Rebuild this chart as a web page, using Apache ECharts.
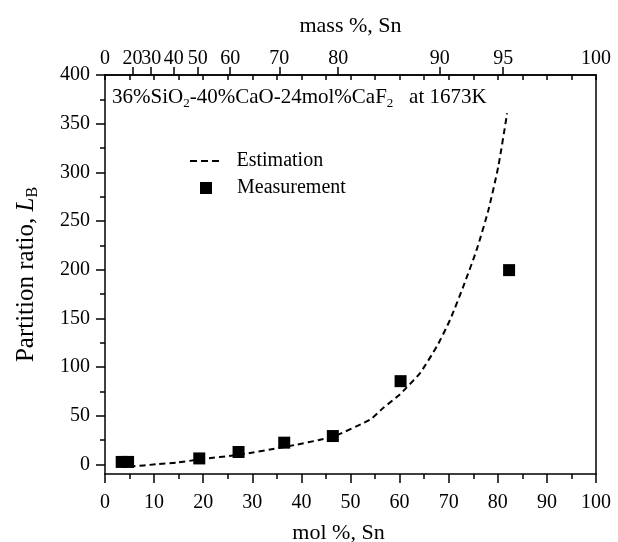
<!DOCTYPE html>
<html><head><meta charset="utf-8">
<script src="https://cdn.jsdelivr.net/npm/echarts@6/dist/echarts.min.js"></script>
<style>html,body{margin:0;padding:0;background:#fff}#c{width:618px;height:542px}</style>
</head><body><div id="c"></div>
<script>
// mass% top-axis tick positions (in mol% coordinates) and their labels
const massTickPos = [5.6, 9.4, 14.0, 18.9, 25.5, 35.5, 47.5, 68.2, 81.1];
const massLabelPos = [0, 5.6, 9.4, 14.0, 18.9, 25.5, 35.5, 47.5, 68.2, 81.1, 100];
const massLabels = ['0', '20', '30', '40', '50', '60', '70', '80', '90', '95', '100'];
// y ticks
const yTickVals = [0, 50, 100, 150, 200, 250, 300, 350, 400];
const yMinorVals = [25, 75, 125, 175, 225, 275, 325, 375];
// Measurement
const measMol = [3.4, 4.7, 19.2, 27.2, 36.5, 46.4, 60.2, 82.3];
const measLB = [2.4, 2.4, 6, 12.6, 22.2, 29, 85.4, 199.5];
// Estimation
const estMol = [5.0, 10.5, 14.6, 19.3, 27.5, 36.3, 46.4, 54.0, 56.7, 60.0, 61.4, 64.2, 67.6, 70.3, 73.0, 75.7, 78.1, 80.1, 81.9];
const estLB = [-2.4, 0, 1.7, 5, 10, 17.5, 28.5, 46, 58, 71.5, 78.7, 94, 121.3, 148.7, 183, 220.5, 261.5, 306, 360.7];

const FF = "'Liberation Serif', 'Times New Roman', serif";
const BLK = '#000';
const ls = { color: BLK, width: 1.5 };
const chart = echarts.init(document.getElementById('c'), null, { renderer: 'canvas' });
const gridRect = { left: 105, right: 22, top: 75, bottom: 68, containLabel: false, outerBoundsMode: 'none' };

chart.setOption({
  animation: false,
  backgroundColor: '#fff',
  textStyle: { fontFamily: FF, color: BLK, fontWeight: 'normal' },
  title: {
    left: 112, top: 85, padding: 0,
    text: '{n|36%SiO}{s|2}{n|-40%CaO-24mol%CaF}{s|2}{n|   at 1673K}',
    textStyle: {
      fontWeight: 'normal',
      rich: {
        n: { fontSize: 21, fontFamily: FF, color: BLK, fontWeight: 'normal', lineHeight: 25 },
        s: { fontSize: 13, fontFamily: FF, color: BLK, fontWeight: 'normal', lineHeight: 13, verticalAlign: 'bottom' }
      }
    }
  },
  legend: [
    { data: [{ name: 'Estimation', icon: 'path://M0,0h7v2h-7zM11,0h7v2h-7zM22,0h7v2h-7z', itemStyle: { color: BLK } }],
      left: 190, top: 151, orient: 'vertical', itemWidth: 30, itemHeight: 2, selectedMode: false, padding: 0,
      textStyle: { fontSize: 20, fontFamily: FF, color: BLK, padding: [0, 0, 0, 12] } },
    { data: [{ name: 'Measurement', icon: 'rect' }], left: 200, top: 178, orient: 'vertical', itemWidth: 12, itemHeight: 12, selectedMode: false, padding: 0,
      itemStyle: { opacity: 1 },
      textStyle: { fontSize: 20, fontFamily: FF, color: BLK, padding: [0, 0, 0, 20] } }
  ],
  grid: [Object.assign({}, gridRect), Object.assign({}, gridRect)],
  xAxis: [
    { type: 'value', gridIndex: 0, position: 'bottom', min: 0, max: 100, interval: 10,
      axisLine: { onZero: false, lineStyle: ls },
      axisTick: { length: 9, lineStyle: ls },
      minorTick: { show: true, splitNumber: 2, length: 5, lineStyle: ls },
      splitLine: { show: false },
      axisLabel: { fontSize: 20, margin: 19, color: BLK, fontFamily: FF },
      name: 'mol %, Sn', nameLocation: 'middle', nameGap: 48,
      nameTextStyle: { fontSize: 22, fontFamily: FF, color: BLK, padding: [0, 24, 0, 0] } },
    { type: 'value', gridIndex: 0, position: 'top', min: 0, max: 100,
      axisLine: { show: true, onZero: false, lineStyle: ls },
      axisTick: { customValues: massTickPos, length: 8, lineStyle: ls },
      splitLine: { show: false },
      axisLabel: { customValues: massLabelPos, margin: 6, fontSize: 20, color: BLK, fontFamily: FF,
        formatter: function (v) {
          let best = 0, d = 1e9;
          massLabelPos.forEach(function (p, i) { if (Math.abs(p - v) < d) { d = Math.abs(p - v); best = i; } });
          return massLabels[best];
        } },
      name: 'mass %, Sn', nameLocation: 'middle', nameGap: 38,
      nameTextStyle: { fontSize: 22, fontFamily: FF, color: BLK } },
    { type: 'value', gridIndex: 1, position: 'top', min: 0, max: 100, interval: 5,
      axisLine: { show: true, onZero: false, lineStyle: ls },
      axisTick: { inside: true, length: 5, lineStyle: ls },
      axisLabel: { show: false }, splitLine: { show: false } }
  ],
  yAxis: [
    { type: 'value', gridIndex: 0, position: 'left', min: -10, max: 400,
      axisLine: { show: true, onZero: false, lineStyle: ls },
      axisTick: { customValues: yTickVals, length: 9, lineStyle: ls },
      axisLabel: { customValues: yTickVals, margin: 15, fontSize: 20, color: BLK, fontFamily: FF },
      splitLine: { show: false },
      name: '{a|Partition ratio, }{i|L}{s|B}', nameLocation: 'middle', nameGap: 64, nameRotate: 90,
      nameTextStyle: { rich: {
        a: { fontSize: 25, fontFamily: FF, color: BLK, lineHeight: 30 },
        i: { fontSize: 25, fontFamily: FF, color: BLK, fontStyle: 'italic', lineHeight: 30 },
        s: { fontSize: 16, fontFamily: FF, color: BLK, lineHeight: 16, verticalAlign: 'bottom' }
      } } },
    { type: 'value', gridIndex: 0, position: 'right', min: -10, max: 400,
      axisLine: { show: true, onZero: false, lineStyle: ls },
      axisTick: { show: false }, axisLabel: { show: false }, splitLine: { show: false } },
    { type: 'value', gridIndex: 1, position: 'left', min: -10, max: 400,
      axisLine: { show: false },
      axisTick: { customValues: yMinorVals, length: 5, lineStyle: ls },
      axisLabel: { show: false }, splitLine: { show: false } }
  ],
  series: [
    { name: 'Estimation', type: 'line', xAxisIndex: 0, yAxisIndex: 0,
      data: estMol.map(function (x, i) { return [x, estLB[i]]; }),
      smooth: 0.2, symbol: 'none', showSymbol: false,
      lineStyle: { color: BLK, width: 2, type: [6, 4] }, itemStyle: { color: BLK }, z: 2 },
    { name: 'Measurement', type: 'scatter', xAxisIndex: 0, yAxisIndex: 0,
      data: measMol.map(function (x, i) { return [x, measLB[i]]; }),
      symbol: 'rect', symbolSize: 12, itemStyle: { color: BLK, opacity: 1 }, z: 3 }
  ]
});
</script></body></html>
